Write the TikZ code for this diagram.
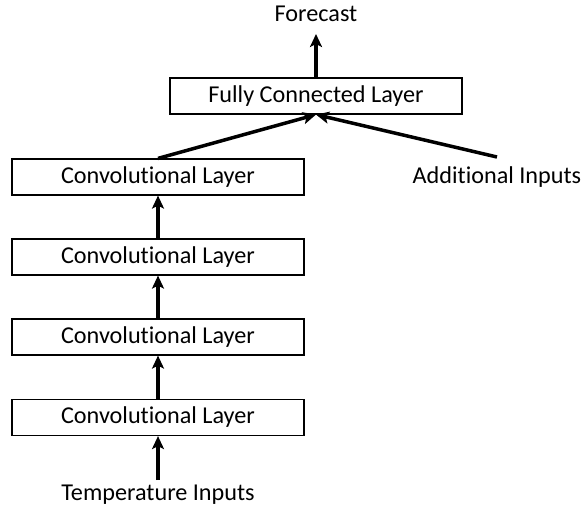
\documentclass[tikz,border=0pt]{standalone}
\usepackage{fontspec}
\setmainfont[Ligatures={NoCommon}]{Carlito}
\usetikzlibrary{arrows.meta}
\begin{document}
\begin{tikzpicture}[x=1pt,y=-1pt,
  layer/.style={draw, line width=1.2pt, minimum width=292pt, minimum height=36pt,
    inner sep=0pt, font=\fontsize{24.2}{28}\selectfont},
  label/.style={inner sep=0pt, font=\fontsize{24.2}{28}\selectfont},
  flow/.style={line width=3.5pt, -{Stealth[length=13pt,width=12pt,inset=3pt]}}]
  \useasboundingbox (0,0) rectangle (582,512);
  % stack of convolutional layers
  \node[layer] (c4) at (158,417.5) {Convolutional Layer};
  \node[layer] (c3) at (158,337) {Convolutional Layer};
  \node[layer] (c2) at (158,257) {Convolutional Layer};
  \node[layer] (c1) at (158,177) {Convolutional Layer};
  \node[layer] (fc) at (316,96) {Fully Connected Layer};
  % input and output labels
  \node[label] (tin) at (158,495) {Temperature Inputs};
  \node[label] (add) at (497,177) {Additional Inputs};
  \node[label] (out) at (316,14) {Forecast};
  \coordinate (tinTop) at (158,480);
  \coordinate (addTop) at (497,157);
  \coordinate (outBot) at (316,34);
  % connectors
  \draw[flow] (tinTop) -- (c4.south);
  \draw[flow] (c4.north) -- (c3.south);
  \draw[flow] (c3.north) -- (c2.south);
  \draw[flow] (c2.north) -- (c1.south);
  \draw[flow] (c1.north) -- (fc.south);
  \draw[flow] (addTop) -- (fc.south);
  \draw[flow] (fc.north) -- (outBot);
\end{tikzpicture}
\end{document}
